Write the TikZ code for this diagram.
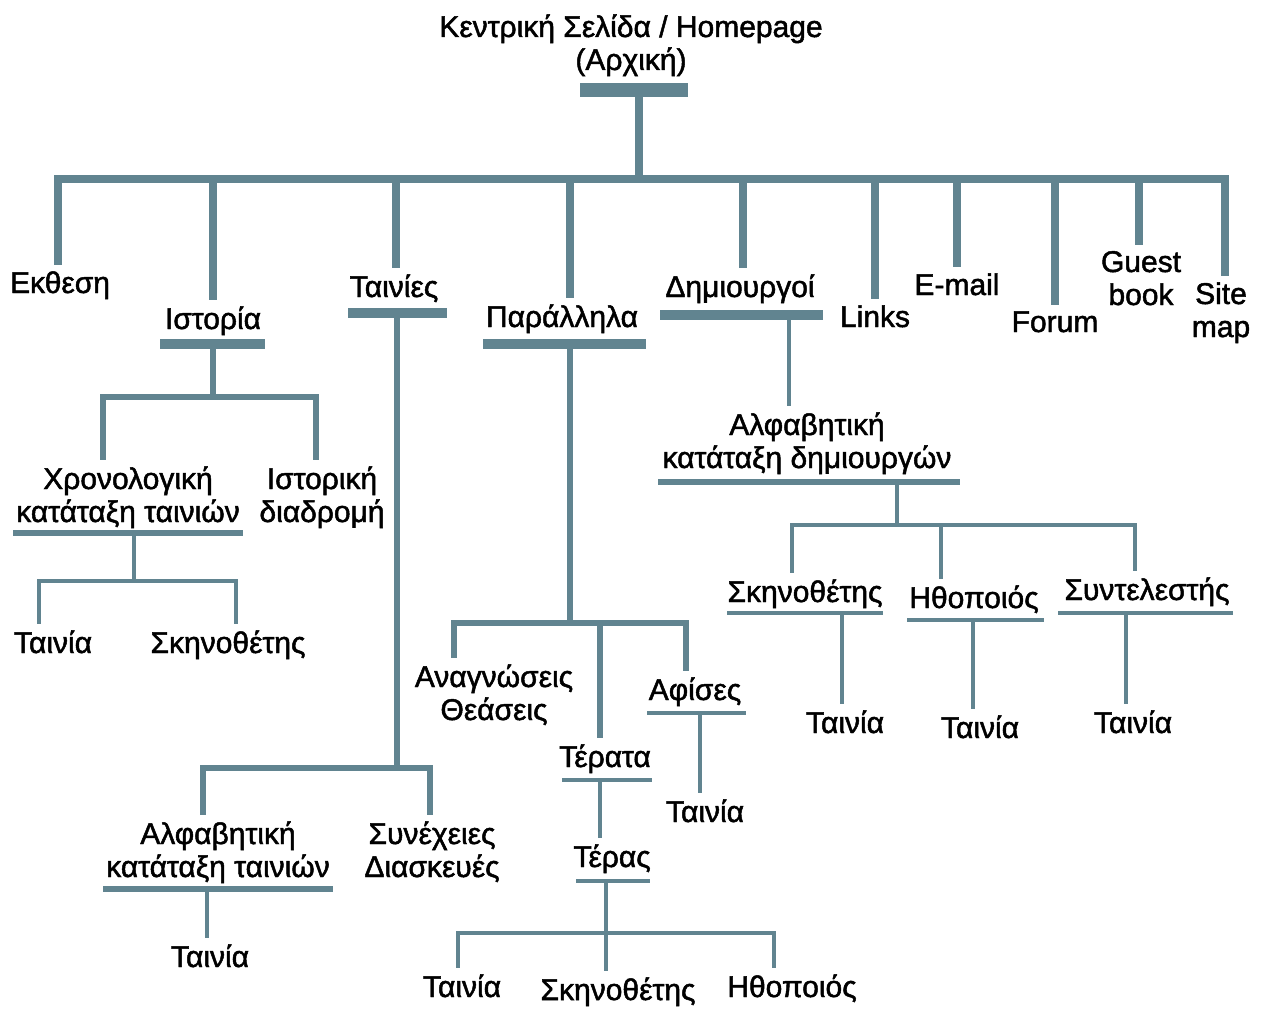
\documentclass[tikz,border=0pt]{standalone}
\usepackage{fontspec}
\setmainfont{Liberation Sans}[FakeBold=1.6]
\definecolor{treeblue}{RGB}{97,132,144}
\tikzset{
  lbl/.style={font=\fontsize{30}{33}\selectfont, align=center, anchor=base, inner xsep=0pt, inner ysep=6pt},
  hbar/.style={fill=treeblue, inner sep=0pt, minimum height=#1},
  lv1/.style={draw=treeblue, line width=8pt},
  lv2/.style={draw=treeblue, line width=6pt},
  lv3/.style={draw=treeblue, line width=4.5pt},
  lv4/.style={draw=treeblue, line width=4pt},
}
\begin{document}
\begin{tikzpicture}[x=1pt,y=-1pt]
\useasboundingbox (0,0) rectangle (1261,1011);

% root (multi-line labels sit on their last line)
\node[lbl] (root) at (631,70) {Κεντρική Σελίδα / Homepage\\(Αρχική)};
\node[hbar=14pt, minimum width=108pt] (rootB) at (634,90) {};

% first level
\node[lbl] (ekthesi) at (60,293) {Εκθεση};
\node[lbl] (istoria) at (213,329) {Ιστορία};
\node[lbl] (tainies) at (394,297) {Ταινίες};
\node[lbl] (parallila) at (562,327) {Παράλληλα};
\node[lbl] (dimiourgoi) at (740,297) {Δημιουργοί};
\node[lbl] (links) at (875,327) {Links};
\node[lbl] (email) at (957,295) {E-mail};
\node[lbl] (forum) at (1055,332) {Forum};
\node[lbl] (guest) at (1141,305) {Guest\\book};
\node[lbl] (sitemap) at (1221,337) {Site\\map};

\node[hbar=10pt, minimum width=105pt] (istoriaB) at (212.5,344) {};
\node[hbar=10pt, minimum width=99pt] (tainiesB) at (397.5,313) {};
\node[hbar=10pt, minimum width=163pt] (parallilaB) at (564.5,344) {};
\node[hbar=10pt, minimum width=163pt] (dimiourgoiB) at (741.5,315) {};

% Istoria
\node[lbl] (chrono) at (128,522) {Χρονολογική\\κατάταξη ταινιών};
\node[lbl] (istdiad) at (322,522) {Ιστορική\\διαδρομή};
\node[hbar=6pt, minimum width=230pt] (chronoB) at (128,533) {};
\node[lbl] (chTainia) at (53,653) {Ταινία};
\node[lbl] (chSkin) at (228,653) {Σκηνοθέτης};

% Tainies
\node[lbl] (alfaT) at (218,877) {Αλφαβητική\\κατάταξη ταινιών};
\node[lbl] (synech) at (432,877) {Συνέχειες\\Διασκευές};
\node[hbar=6pt, minimum width=230pt] (alfaTB) at (218,889) {};
\node[lbl] (alfaTainia) at (210,967) {Ταινία};

% Parallila
\node[lbl] (anagn) at (494,720) {Αναγνώσεις\\Θεάσεις};
\node[lbl] (afises) at (695,700) {Αφίσες};
\node[hbar=4.5pt, minimum width=99pt] (afisesB) at (696.5,713) {};
\node[lbl] (afTainia) at (705,822) {Ταινία};
\node[lbl] (terata) at (605,767) {Τέρατα};
\node[hbar=4.5pt, minimum width=90pt] (terataB) at (607,780) {};
\node[lbl] (teras) at (612,867) {Τέρας};
\node[hbar=4.5pt, minimum width=74pt] (terasB) at (613,881) {};
\node[lbl] (trTainia) at (462,997) {Ταινία};
\node[lbl] (trSkin) at (618,1000) {Σκηνοθέτης};
\node[lbl] (trIthop) at (792,997) {Ηθοποιός};

% Dimiourgoi
\node[lbl] (alfaD) at (807,468) {Αλφαβητική\\κατάταξη δημιουργών};
\node[hbar=6pt, minimum width=302pt] (alfaDB) at (809,482) {};
\node[lbl] (dSkin) at (805,602) {Σκηνοθέτης};
\node[lbl] (dIthop) at (974,608) {Ηθοποιός};
\node[lbl] (dSynt) at (1147,600) {Συντελεστής};
\node[hbar=4.5pt, minimum width=156pt] (dSkinB) at (805,613) {};
\node[hbar=4.5pt, minimum width=137pt] (dIthopB) at (975.5,620) {};
\node[hbar=4.5pt, minimum width=175pt] (dSyntB) at (1145.5,613) {};
\node[lbl] (dTainia1) at (845,733) {Ταινία};
\node[lbl] (dTainia2) at (980,738) {Ταινία};
\node[lbl] (dTainia3) at (1133,733) {Ταινία};

% junctions
\coordinate (hub) at (639,179);
\coordinate (jIst) at (213,397);
\coordinate (jChr) at (134,581);
\coordinate (jTain) at (397,768);
\coordinate (jAlfT) at (207,889);
\coordinate (jPar) at (570,623);
\coordinate (jAfis) at (700,713);
\coordinate (jTerata) at (600,780);
\coordinate (jTeras) at (606,933);
\coordinate (jDim) at (789,315);
\coordinate (jAlfD) at (897,525);
\coordinate (jDSk) at (842,613);
\coordinate (jDIth) at (973,620);
\coordinate (jDSyn) at (1126,613);

% connectors
\draw[lv1] (hub |- rootB.center) -- (hub);
\foreach \n/\dx in {ekthesi/-2,istoria/0,tainies/2,parallila/8,dimiourgoi/3,links/0,email/0,forum/0,guest/-2,sitemap/4}
  \draw[lv1] (hub) -| ([xshift=\dx pt]\n.north);

\draw[lv2] (jIst |- istoriaB.center) -- (jIst);
\draw[lv2] (jIst) -| ([xshift=-25pt]chrono.north);
\draw[lv2] (jIst) -| ([xshift=-6pt]istdiad.north);
\draw[lv3] (jChr |- chronoB.center) -- (jChr);
\draw[lv3] (jChr) -| ([xshift=-14pt]chTainia.north);
\draw[lv3] (jChr) -| ([xshift=8pt]chSkin.north);

\draw[lv2] (jTain |- tainiesB.center) -- (jTain);
\draw[lv2] (jTain) -| ([xshift=-15pt]alfaT.north);
\draw[lv2] (jTain) -| ([xshift=-2pt]synech.north);
\draw[lv3] (jAlfT) -- (jAlfT |- alfaTainia.north);

\draw[lv2] (jPar |- parallilaB.center) -- (jPar);
\draw[lv2] (jPar) -| ([xshift=-40pt]anagn.north);
\draw[lv2] (jPar) -| ([xshift=-5pt]terata.north);
\draw[lv2] (jPar) -| ([xshift=-9pt]afises.north);
\draw[lv3] (jAfis) -- (jAfis |- afTainia.north);
\draw[lv4] (jTerata) -- (jTerata |- teras.north);
\draw[lv4] (jTeras |- terasB.center) -- (jTeras);
\draw[lv4] (jTeras) -| ([xshift=-4pt]trTainia.north);
\draw[lv4] (jTeras) -| ([xshift=-12pt]trSkin.north);
\draw[lv4] (jTeras) -| ([xshift=-18pt]trIthop.north);

\draw[lv3] (jDim) -- (jDim |- alfaD.north);
\draw[lv3] (jAlfD |- alfaDB.center) -- (jAlfD);
\draw[lv3] (jAlfD) -| ([xshift=-13pt]dSkin.north);
\draw[lv3] (jAlfD) -| ([xshift=-33pt]dIthop.north);
\draw[lv3] (jAlfD) -| ([xshift=-12pt]dSynt.north);
\draw[lv4] (jDSk) -- (jDSk |- dTainia1.north);
\draw[lv4] (jDIth) -- (jDIth |- dTainia2.north);
\draw[lv4] (jDSyn) -- (jDSyn |- dTainia3.north);
\end{tikzpicture}
\end{document}
